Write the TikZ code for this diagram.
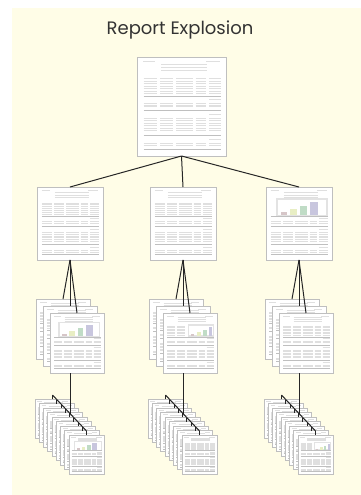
\documentclass[tikz,border=0pt]{standalone}
\usepackage{fontspec}
\newfontfamily\titlefont{Poppins}

\definecolor{bgyellow}{RGB}{255,253,231}
\definecolor{barA}{RGB}{214,198,200}
\definecolor{barB}{RGB}{232,238,196}
\definecolor{barC}{RGB}{192,220,198}
\definecolor{barD}{RGB}{200,198,222}

\tikzset{
  page/.style={draw=gray!50, fill=white, line width=0.9pt, inner sep=0pt, outer sep=0pt, anchor=north west},
  link/.style={draw=black!85, line width=1pt},
  rule/.style={gray!25},
  sep/.style={gray!50},
  chartbox/.style={draw=gray!22, line width=1.5\pgflinewidth},
}

% table columns of a page (page units)
\def\tcols{0.075/0.22,0.26/0.41,0.44/0.63,0.66/0.78,0.81/0.94}
\newcommand{\tablerows}[1]{\foreach \yy in {#1} \foreach \xa/\xb in \tcols \draw[rule] (\xa,\yy) -- (\xb,\yy);}

% what is printed on a page: 0 table, 1 chart, 2 half chart
\newcommand{\pagebody}[1]{%
  \draw[rule] (0.07,0.05) -- (0.2,0.05) (0.78,0.05) -- (0.93,0.05);
  \foreach \yy in {0.08,0.11,0.14} \draw[rule] (0.27,\yy) -- (0.79,\yy);
  \ifcase#1
    \tablerows{0.22,0.245,0.27,0.295,0.32,0.345,0.37}
  \or
    \draw[chartbox] (0.17,0.16) rectangle (0.92,0.39);
    \fill[barA] (0.22,0.345) rectangle (0.32,0.39);
    \fill[barB] (0.36,0.3) rectangle (0.47,0.39);
    \fill[barC] (0.52,0.255) rectangle (0.62,0.39);
    \fill[barD] (0.67,0.2) rectangle (0.79,0.39);
  \or
    \foreach \yy in {0.22,0.245,0.27,0.295,0.32,0.345,0.37}
      \draw[rule] (0.075,\yy) -- (0.22,\yy) (0.26,\yy) -- (0.41,\yy);
    \draw[chartbox] (0.47,0.2) rectangle (0.94,0.38);
    \fill[barA] (0.52,0.35) rectangle (0.58,0.38);
    \fill[barB] (0.63,0.32) rectangle (0.7,0.38);
    \fill[barC] (0.74,0.28) rectangle (0.81,0.38);
    \fill[barD] (0.85,0.24) rectangle (0.91,0.38);
  \fi
  \draw[sep] (0.075,0.40) -- (0.94,0.40);
  \draw[rule] (0.81,0.43) -- (0.94,0.43);
  \tablerows{0.47,0.495}
  \draw[sep] (0.075,0.54) -- (0.94,0.54);
  \draw[rule] (0.81,0.58) -- (0.94,0.58);
  \tablerows{0.62,0.645,0.67,0.695,0.72,0.745}
  \draw[sep] (0.075,0.79) -- (0.94,0.79);
  \draw[rule] (0.81,0.83) -- (0.94,0.83);
  \tablerows{0.87,0.895}
  \draw[sep] (0.075,0.93) -- (0.94,0.93);
}

% report page: name, left, top, width, height, kind
\newcommand{\repnode}[6]{%
  \node[page, minimum width=#4pt, minimum height=#5pt] (#1) at (#2,#3) {};
  \begin{scope}[shift={(#1.north west)}, x=#4pt, y=-#5pt, line width={0.012*#4pt}]
    \pagebody{#6}
  \end{scope}}

\begin{document}
\begin{tikzpicture}[x=1pt, y=-1pt]
  \useasboundingbox (0,0) rectangle (361,495);
  \fill[bgyellow] (12,8) rectangle (361,495);
  \node[font=\titlefont\fontsize{18}{21}\selectfont, text=black!80] (title) at (180,30) {Report Explosion};

  % the whole report
  \repnode{top}{137}{57}{89}{99}{0}

  % one column per part: middle page, stack of 3, stack of 9
  \foreach \c/\n/\vm/\vs/\vb in {70/1/0/1/1, 183/2/0/2/0, 299/3/1/0/2}{
    \repnode{m\n}{\c-33}{187}{66}{73}{\vm}
    \foreach \k in {0,1,2}{
      \pgfmathtruncatemacro\v{\k==2 ? \vs : 0}
      \repnode{s\n\k}{\c-34+7*\k}{299+7*\k}{54}{60}{\v}
    }
    \foreach \k in {0,...,8}{
      \pgfmathtruncatemacro\v{\k==8 ? \vb : 0}
      \repnode{b\n\k}{\c-35+4.25*\k}{399+4.5*\k}{35}{39}{\v}
    }
    \coordinate (hub\n) at (\c,413.5);
  }

  % connectors
  \foreach \n in {1,2,3}{
    \draw[link] (top.south) -- (m\n.north);
    \foreach \k in {0,1,2} \draw[link] (m\n.south) -- (s\n\k.north);
    \draw[link] (s\n2.south -| m\n.south) -- (hub\n);
    \draw[link] ([yshift=4pt]b\n0.north) -- ([yshift=4pt]b\n8.north);
    \foreach \k in {0,...,8} \draw[link] (b\n\k.north) -- ([yshift=4pt]b\n\k.north);
  }
\end{tikzpicture}
\end{document}
